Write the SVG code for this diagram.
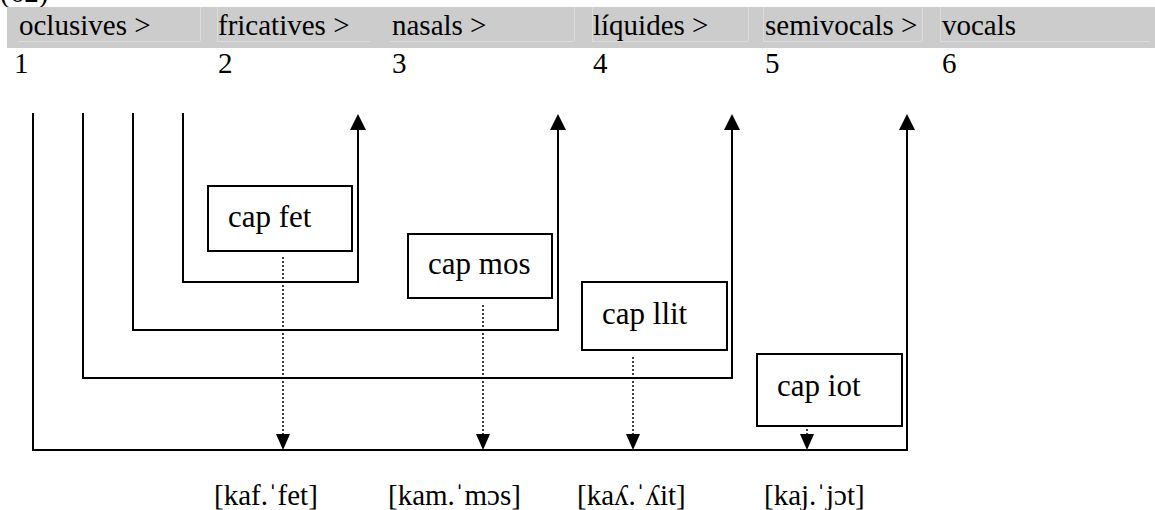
<svg xmlns="http://www.w3.org/2000/svg" width="1155" height="510" viewBox="0 0 1155 510" font-family="'Liberation Serif', 'Times New Roman', 'DejaVu Serif', serif">
  <defs>
    <marker id="arrUp" markerWidth="16" markerHeight="16" refX="4" refY="8" orient="auto" markerUnits="userSpaceOnUse" viewBox="0 0 16 16">
      <path d="M0,0 L16,8 L0,16 Z" fill="#000"/>
    </marker>
    <marker id="arrDown" markerWidth="16" markerHeight="14" refX="4" refY="7" orient="auto" markerUnits="userSpaceOnUse" viewBox="0 0 16 14">
      <path d="M0,0 L16,7 L0,14 Z" fill="#000"/>
    </marker>
    <style>
      .hdr { font-size: 29px; fill: #000; }
      .box { font-size: 31px; fill: #000; }
      .ipa { font-size: 29px; fill: #000; }
      .node rect { fill: #fff; stroke: #000; stroke-width: 2; }
      .loop { fill: none; stroke: #000; stroke-width: 2; }
      .dot { fill: none; stroke: #000; stroke-width: 1.5; stroke-dasharray: 2 2; }
      .cell { stroke: #dcdcdc; stroke-width: 1; fill: none; }
    </style>
  </defs>

  <text class="hdr" x="0" y="2" font-family="'Liberation Serif', 'Times New Roman', serif">(62)</text>

  <g id="header">
    <rect x="7" y="7" width="1148" height="41" fill="#cccccc"/>
    <path class="cell" d="M18,41.5 H200 M217,41.5 H370 M390,41.5 H574 M592,41.5 H748 M763,41.5 H922 M940,41.5 H1150 M200.5,7 V41 M217.5,7 V41 M574.5,7 V41 M592.5,7 V41 M748.5,7 V41 M763.5,7 V41 M922.5,7 V41 M940.5,7 V41"/>
    <text class="hdr" x="19" y="35" font-family="'Liberation Serif', 'Times New Roman', serif">oclusives &gt;</text>
    <text class="hdr" x="218" y="35" font-family="'Liberation Serif', 'Times New Roman', serif">fricatives &gt;</text>
    <text class="hdr" x="392" y="35" font-family="'Liberation Serif', 'Times New Roman', serif">nasals &gt;</text>
    <text class="hdr" x="593" y="35" font-family="'Liberation Serif', 'Times New Roman', serif">líquides &gt;</text>
    <text class="hdr" x="765" y="35" font-family="'Liberation Serif', 'Times New Roman', serif">semivocals &gt;</text>
    <text class="hdr" x="942" y="35" font-family="'Liberation Serif', 'Times New Roman', serif">vocals</text>
  </g>

  <g id="numbers">
    <text class="hdr" x="14" y="73" font-family="'Liberation Serif', 'Times New Roman', serif">1</text>
    <text class="hdr" x="218" y="73" font-family="'Liberation Serif', 'Times New Roman', serif">2</text>
    <text class="hdr" x="392" y="73" font-family="'Liberation Serif', 'Times New Roman', serif">3</text>
    <text class="hdr" x="593" y="73" font-family="'Liberation Serif', 'Times New Roman', serif">4</text>
    <text class="hdr" x="765" y="73" font-family="'Liberation Serif', 'Times New Roman', serif">5</text>
    <text class="hdr" x="942" y="73" font-family="'Liberation Serif', 'Times New Roman', serif">6</text>
  </g>

  <g id="connectors">
    <path class="loop" d="M183,113 V282 H358 V126" marker-end="url(#arrUp)"/>
    <path class="loop" d="M133,113 V330 H558 V126" marker-end="url(#arrUp)"/>
    <path class="loop" d="M83,113 V378 H732 V126" marker-end="url(#arrUp)"/>
    <path class="loop" d="M33,113 V450 H907 V126" marker-end="url(#arrUp)"/>
    <path class="dot" d="M283,257 V438" marker-end="url(#arrDown)"/>
    <path class="dot" d="M483,305 V438" marker-end="url(#arrDown)"/>
    <path class="dot" d="M633,357 V438" marker-end="url(#arrDown)"/>
    <path class="dot" d="M807,429 V438" marker-end="url(#arrDown)"/>
  </g>

  <g id="node-capfet" class="node">
    <rect x="208" y="186" width="144" height="65"/>
    <text class="box" x="228" y="227" font-family="'Liberation Serif', 'Times New Roman', serif">cap fet</text>
  </g>
  <g id="node-capmos" class="node">
    <rect x="408" y="234" width="144" height="64"/>
    <text class="box" x="428" y="274" font-family="'Liberation Serif', 'Times New Roman', serif">cap mos</text>
  </g>
  <g id="node-capllit" class="node">
    <rect x="582" y="282" width="145" height="68"/>
    <text class="box" x="602" y="324" font-family="'Liberation Serif', 'Times New Roman', serif">cap llit</text>
  </g>
  <g id="node-capiot" class="node">
    <rect x="757" y="354" width="145" height="72"/>
    <text class="box" x="777" y="396" font-family="'Liberation Serif', 'Times New Roman', serif">cap iot</text>
  </g>

  <g id="labels">
    <text class="ipa" x="214" y="505" font-family="'Liberation Serif', 'Times New Roman', serif">[kaf.ˈfet]</text>
    <text class="ipa" x="388" y="505" font-family="'Liberation Serif', 'Times New Roman', serif">[kam.ˈmɔs]</text>
    <text class="ipa" x="577" y="505" font-family="'Liberation Serif', 'Times New Roman', serif">[kaʎ.ˈʎit]</text>
    <text class="ipa" x="764" y="505" font-family="'Liberation Serif', 'Times New Roman', serif">[kaj.ˈjɔt]</text>
  </g>
</svg>
